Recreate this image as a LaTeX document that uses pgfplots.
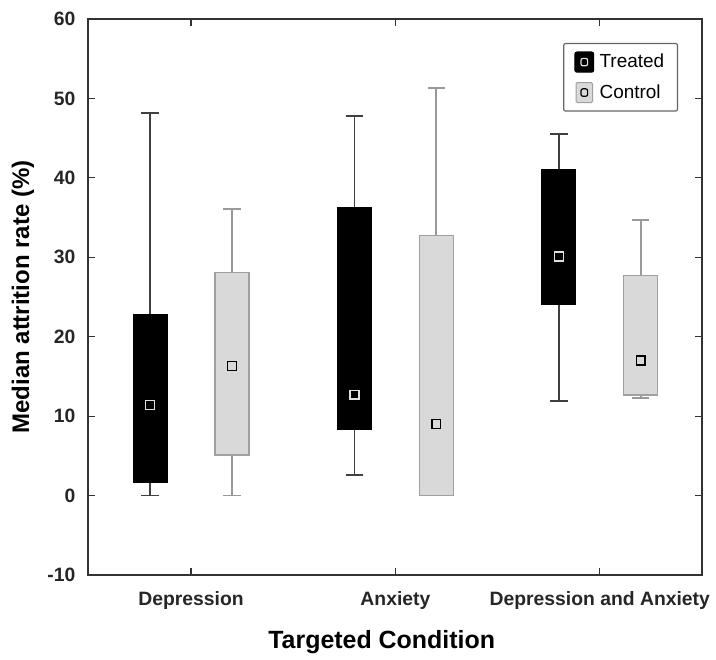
\documentclass[border=0pt]{standalone}
\usepackage{fontspec}
\setmainfont{Liberation Sans}
\usepackage{pgfplots}
\pgfplotsset{compat=1.18}
\usepgfplotslibrary{statistics}
\definecolor{ctrlfill}{HTML}{D9D9D9}
\definecolor{ctrldraw}{HTML}{A0A0A0}
\definecolor{ctrlwhisk}{HTML}{999999}
\definecolor{trwhisk}{HTML}{404040}
\begin{document}
\begin{tikzpicture}
\begin{axis}[
  name=main,
  scale only axis, width=460.5pt, height=417pt,
  xmin=-0.504, xmax=2.5, ymin=-10, ymax=60,
  ytick={-10,0,...,60},
  xtick={0,1,2},
  xticklabels={Depression, Anxiety, Depression and Anxiety},
  /pgf/number format/assume math mode=true,
  tick label style={font=\bfseries\fontsize{14.5}{17}\selectfont, text=black!85},
  xticklabel style={yshift=-9pt},
  yticklabel style={xshift=-6pt},
  tick align=inside, tick pos=both, major tick length=5pt,
  axis line style={line width=1.1pt, black!80},
  tick style={line width=0.9pt, black!80},
  xlabel={Targeted Condition}, ylabel={Median attrition rate (\%)},
  xlabel style={font=\bfseries\fontsize{18.7}{22}\selectfont, yshift=-9pt, xshift=-10pt},
  ylabel style={font=\bfseries\fontsize{18}{21}\selectfont, yshift=3pt},
  legend style={at={(axis description cs:0.961,0.957)}, anchor=north east,
    draw=black!60, line width=0.9pt, rounded corners=1.5pt,
    font=\fontsize{14.2}{17}\selectfont, row sep=7pt, inner xsep=8pt, inner ysep=6pt},
  legend cell align=left,
  boxplot/draw direction=y,
  boxplot/every median/.style={draw=none},
]
\addlegendimage{legend image code/.code={\fill[black] (0pt,-7.5pt) rectangle (14pt,7.5pt); \draw[white!88!black,line width=0.9pt] (4.5pt,-2.8pt) rectangle (9.5pt,2.8pt); \path (16pt,0pt);}}
\addlegendentry{Treated}
\addlegendimage{legend image code/.code={\filldraw[fill=ctrlfill,draw=ctrldraw,line width=0.8pt,rounded corners=1pt] (0.8pt,-7.5pt) rectangle (13.2pt,7.5pt); \draw[black,line width=0.9pt] (4.5pt,-2.8pt) rectangle (9.5pt,2.8pt); \path (16pt,0pt);}}
\addlegendentry{Control}
\pgfplotsset{
  trt/.style={forget plot, draw=black, fill=black, line width=0.8pt,
    boxplot/every whisker/.style={draw=trwhisk, line width=1.4pt}},
  ctl/.style={forget plot, draw=ctrldraw, fill=ctrlfill, line width=1pt,
    boxplot/every whisker/.style={draw=ctrlwhisk, line width=1.3pt}},
}
% Treated
\addplot[trt,
  boxplot prepared={lower whisker=0, lower quartile=1.7, median=11.4, upper quartile=22.8, upper whisker=48.2, draw position=-0.2, box extend=0.166, whisker extend=0.085}] coordinates {};
\addplot[trt,
  boxplot prepared={lower whisker=2.6, lower quartile=8.3, median=12.7, upper quartile=36.2, upper whisker=47.8, draw position=0.8, box extend=0.166, whisker extend=0.085}] coordinates {};
\addplot[trt,
  boxplot prepared={lower whisker=11.9, lower quartile=24.0, median=30.1, upper quartile=41.0, upper whisker=45.5, draw position=1.8, box extend=0.166, whisker extend=0.085}] coordinates {};
% Control
\addplot[ctl,
  boxplot prepared={lower whisker=0, lower quartile=5.1, median=16.3, upper quartile=28.1, upper whisker=36.1, draw position=0.2, box extend=0.166, whisker extend=0.085}] coordinates {};
\addplot[ctl,
  boxplot prepared={lower whisker=0, lower quartile=0, median=9.0, upper quartile=32.7, upper whisker=51.3, draw position=1.2, box extend=0.166, whisker extend=0.085}] coordinates {};
\addplot[ctl,
  boxplot prepared={lower whisker=12.3, lower quartile=12.65, median=17.0, upper quartile=27.7, upper whisker=34.7, draw position=2.2, box extend=0.166, whisker extend=0.085}] coordinates {};
% Medians
\addplot[forget plot, only marks, mark=square, mark size=3.3pt, mark options={draw=white!88!black, line width=1pt}]
  coordinates {(-0.2,11.4) (0.8,12.7) (1.8,30.1)};
\addplot[forget plot, only marks, mark=square, mark size=3.3pt, mark options={draw=black, line width=1pt}]
  coordinates {(0.2,16.3) (1.2,9.0) (2.2,17.0)};
\end{axis}
\pgfresetboundingbox
\path ([xshift=-66pt,yshift=-63.75pt]main.south west) rectangle ([xshift=10.5pt,yshift=14.25pt]main.north east);
\end{tikzpicture}
\end{document}
